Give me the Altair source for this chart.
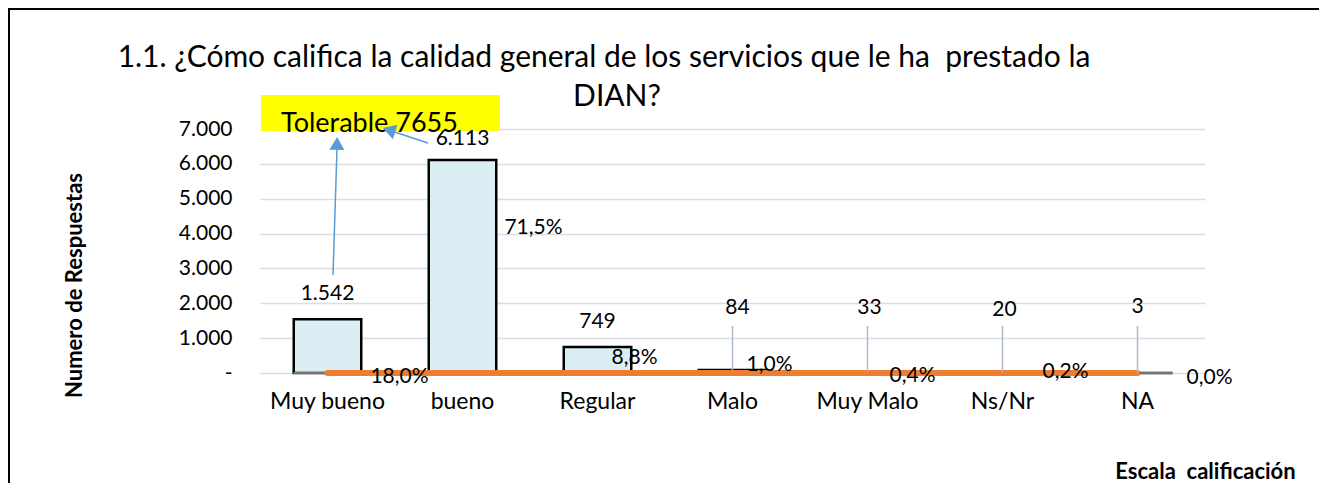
import altair as alt
import pandas as pd

# ---------------- data ----------------
categories = ["Muy bueno", "bueno", "Regular", "Malo", "Muy Malo", "Ns/Nr", "NA"]
counts = [1542, 6113, 749, 84, 33, 20, 3]
percents = [18.0, 71.5, 8.8, 1.0, 0.4, 0.2, 0.0]
y_ticks = [0, 1000, 2000, 3000, 4000, 5000, 6000, 7000]
title_line1 = "1.1. ¿Cómo califica la calidad general de los servicios que le ha \u00a0prestado la"
title_line2 = "DIAN?"
note_text = "Tolerable 7655"
y_title = "Numero de Respuestas"
x_title = "Escala \u00a0calificación"

# ---------------- style (label offsets, px) ----------------
count_label_offsets = [(0, -25), (0, -21), (0, -25), (5, -62), (2, -64), (2, -62), (0, -66)]
pct_label_offsets = [(72, 4), (71, -145), (37, -15), (37, -8), (45, 3), (63, -1), (72, 5)]
leader_cats = ["Malo", "Muy Malo", "Ns/Nr", "NA"]

FONT = "Lato"
W, H = 945, 244
PAD = {"left": 252, "top": 121, "right": 114, "bottom": 110}


def fmt_int(v):
    return f"{v:,}".replace(",", ".")


def fmt_pct(p):
    return f"{p:.1f}%".replace(".", ",")


df = pd.DataFrame({
    "cat": categories,
    "count": counts,
    "share": [p / 100 for p in percents],
    "count_label": [fmt_int(v) for v in counts],
    "pct_label": [fmt_pct(p) for p in percents],
})

x_scale = alt.Scale(paddingInner=0.5, paddingOuter=0.25)
x_axis = alt.Axis(
    title=x_title, labelAngle=0, labelFont=FONT, labelFontSize=23,
    labelColor="black", labelPadding=17, ticks=False, domain=False,
    grid=False, titleFont=FONT, titleFontSize=22, titleFontWeight="bold",
    titleColor="black", titleX=945, titleY=105, titleAlign="center",
    titleBaseline="alphabetic",
)
y_scale = alt.Scale(domain=[0, 7000], nice=False)
y_axis = alt.Axis(
    values=y_ticks, labelOverlap=False,
    labelExpr="datum.value == 0 ? '-' : replace(format(datum.value, ',.0f'), ',', '.')",
    labelFont=FONT, labelFontSize=21, labelColor="black", labelPadding=28,
    ticks=False, domain=False, grid=True, gridColor="#D9DDE4", gridWidth=1.5,
    title=y_title, titleFont=FONT, titleFontSize=22, titleFontWeight="bold",
    titleColor="black", titleAngle=270, titleX=-186, titleY=156,
    titleAlign="center", titleBaseline="middle",
)


def xq():
    return alt.X("cat:N", sort=categories, scale=x_scale, axis=x_axis)


def yq(field):
    return alt.Y(field, scale=y_scale, axis=y_axis)


base = alt.Chart(df)

bars = base.mark_bar(fill="#DAEEF3", stroke="black", strokeWidth=2.5).encode(
    x=xq(), y=yq("count:Q"))

share_line = base.mark_line(color="#ED7D31", strokeWidth=6, strokeCap="round").encode(
    x=xq(), y=yq("share:Q"),
)

gray_leads = [
    base.transform_filter(alt.datum.cat == "Muy bueno").mark_tick(
        color="#A6A6A6", thickness=2, size=32, xOffset=-18).encode(
        x=xq(), y=yq("share:Q")),
    base.transform_filter(alt.datum.cat == "NA").mark_tick(
        color="#A6A6A6", thickness=2, size=32, xOffset=19).encode(
        x=xq(), y=yq("share:Q")),
]

leaders = base.transform_filter(
    alt.FieldOneOfPredicate(field="cat", oneOf=leader_cats)
).mark_rule(color="#ADB9CA", strokeWidth=1.5).encode(
    x=xq(), y=yq("count:Q"), y2=alt.value(197),
)

count_texts = []
for cat, (dx, dy) in zip(categories, count_label_offsets):
    count_texts.append(
        base.transform_filter(alt.datum.cat == cat).mark_text(
            font=FONT, fontSize=21, color="black", dx=dx, dy=dy,
            align="center", baseline="middle").encode(
            x=xq(), y=yq("count:Q"), text="count_label:N")
    )

pct_texts = []
for cat, (dx, dy) in zip(categories, pct_label_offsets):
    pct_texts.append(
        base.transform_filter(alt.datum.cat == cat).mark_text(
            font=FONT, fontSize=21, color="black", dx=dx, dy=dy,
            align="center", baseline="middle").encode(
            x=xq(), y=yq("share:Q"), text="pct_label:N")
    )

one = alt.Data(values=[{"k": 1}])
ann = alt.Chart(one)

border_top = ann.mark_rule(color="black", strokeWidth=2).encode(
    x=alt.value(-252), x2=alt.value(1100), y=alt.value(-120))
border_left = ann.mark_rule(color="black", strokeWidth=2).encode(
    x=alt.value(-251), y=alt.value(-121), y2=alt.value(400))

note_box = ann.mark_rect(color="#FFFF00").encode(
    x=alt.value(1), x2=alt.value(240), y=alt.value(-34), y2=alt.value(2))
note = ann.mark_text(text=note_text, font=FONT, fontSize=27, color="black",
                     align="left", baseline="alphabetic").encode(
    x=alt.value(21), y=alt.value(3))

arrow_color = "#5B9BD5"
arrow1 = ann.mark_rule(color=arrow_color, strokeWidth=1.5).encode(
    x=alt.value(73), x2=alt.value(77), y=alt.value(146), y2=alt.value(20))
head1 = ann.mark_point(shape="triangle-up", filled=True, size=225, angle=1,
                       color=arrow_color, opacity=1).encode(
    x=alt.value(77), y=alt.value(14.5))
arrow2 = ann.mark_rule(color=arrow_color, strokeWidth=1.5).encode(
    x=alt.value(168), x2=alt.value(133), y=alt.value(14), y2=alt.value(2.5))
head2 = ann.mark_point(shape="triangle-up", filled=True, size=225, angle=288,
                       color=arrow_color, opacity=1).encode(
    x=alt.value(129), y=alt.value(1))

title1 = ann.mark_text(text=title_line1, font=FONT, fontSize=30, color="black",
                       align="center", baseline="alphabetic").encode(
    x=alt.value(344), y=alt.value(-62))
title2 = ann.mark_text(text=title_line2, font=FONT, fontSize=30, color="black",
                       align="center", baseline="alphabetic").encode(
    x=alt.value(357), y=alt.value(-23))

chart = alt.layer(
    border_top, border_left, note_box, note, bars, *gray_leads, share_line, leaders,
    *count_texts, *pct_texts, arrow1, head1, arrow2, head2, title1, title2,
).properties(
    width=W, height=H,
    autosize=alt.AutoSizeParams(type="none"),
    padding=PAD,
    background="white",
).configure_view(stroke=None)

chart.save("out.html", embed_options={"renderer": "svg", "actions": False})
